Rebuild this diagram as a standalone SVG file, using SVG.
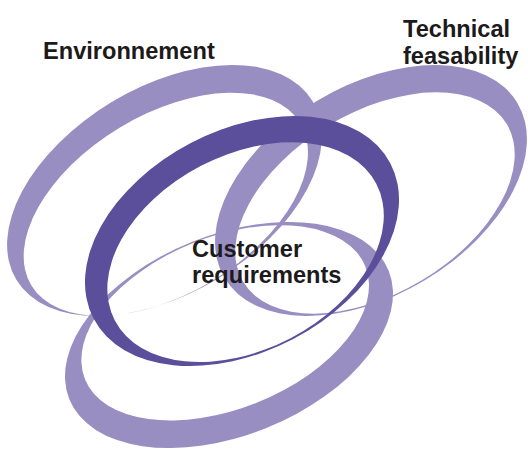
<svg xmlns="http://www.w3.org/2000/svg" width="528" height="451" viewBox="0 0 528 451">
  <style>
    .ring { fill-rule: evenodd; stroke: none; }
    .light { fill: #988ec2; }
    .dark { fill: #5b4f9c; }
    .label { font-family: "Liberation Sans", Arial, sans-serif; font-weight: bold; font-size: 23.6px; fill: #1c1a1a; }
  </style>
  <rect width="528" height="451" fill="#ffffff"/>

  <!-- Each ring: outer ellipse minus an offset inner ellipse, drawn in its own rotated frame -->
  <g id="environnement">
    <g transform="translate(164.5,190.5) rotate(-31.1)">
      <path class="ring light" d="M-173,0 A173,103 0 1,0 173,0 A173,103 0 1,0 -173,0 Z M-163,12.5 A157,89.5 0 1,0 151,12.5 A157,89.5 0 1,0 -163,12.5 Z"/>
    </g>
    <text class="label" x="43" y="59">Environnement</text>
  </g>

  <g id="technical-feasability">
    <g transform="translate(371,190.5) rotate(-30.9)">
      <path class="ring light" d="M-170.6,0 A170.6,104.7 0 1,0 170.6,0 A170.6,104.7 0 1,0 -170.6,0 Z M-156.6,12.75 A153.6,90.45 0 1,0 150.6,12.75 A153.6,90.45 0 1,0 -156.6,12.75 Z"/>
    </g>
    <text class="label" x="403" y="37">Technical</text>
    <text class="label" x="403" y="64">feasability</text>
  </g>

  <g id="lower-ring">
    <g transform="translate(229,335) rotate(-21.9)">
      <path class="ring light" d="M-172.1,0 A172.1,100.2 0 1,0 172.1,0 A172.1,100.2 0 1,0 -172.1,0 Z M-150.1,-12.75 A151.1,85.95 0 1,0 152.1,-12.75 A151.1,85.95 0 1,0 -150.1,-12.75 Z"/>
    </g>
  </g>

  <g id="customer-requirements">
    <g transform="translate(242,241) rotate(-27.6)">
      <path class="ring dark" d="M-167.5,0 A167.5,110.6 0 1,0 167.5,0 A167.5,110.6 0 1,0 -167.5,0 Z M-149.5,11.5 A147.5,97.1 0 1,0 145.5,11.5 A147.5,97.1 0 1,0 -149.5,11.5 Z"/>
    </g>
    <text class="label" x="192" y="257">Customer</text>
    <text class="label" x="192" y="283">requirements</text>
  </g>
</svg>
